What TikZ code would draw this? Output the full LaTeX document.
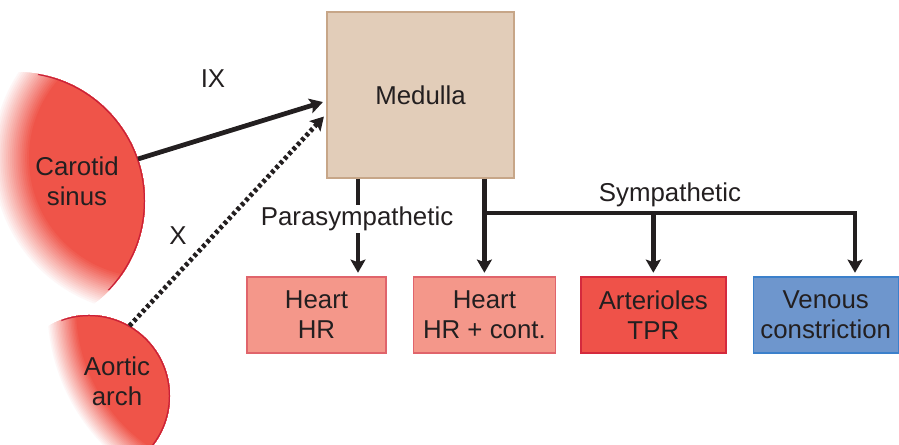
\documentclass[tikz,border=0pt]{standalone}
\usepackage{fontspec}
\setmainfont{Liberation Sans}
\usepackage{tikz}
\usetikzlibrary{positioning,arrows.meta,calc}
\usepackage{xcolor}
\definecolor{inkgray}{HTML}{231F20}
\definecolor{medfill}{HTML}{E2CDB9}
\definecolor{medline}{HTML}{C7A688}
\definecolor{heartfill}{HTML}{F4978A}
\definecolor{heartline}{HTML}{E0646B}
\definecolor{artfill}{HTML}{EF5249}
\definecolor{artline}{HTML}{D42A3D}
\definecolor{venfill}{HTML}{6E96CD}
\definecolor{venline}{HTML}{3B80CB}
\definecolor{sinred}{HTML}{EF5449}
\definecolor{sinedge}{HTML}{C92038}
\tikzset{
  >=Stealth,
  organ/.style={rectangle, minimum height=1.52cm, align=center, line width=0.8pt},
  nerve/.style={line width=2.7pt, draw=inkgray,
    -{Stealth[length=7.5pt,width=8.5pt,inset=1.5pt]}, shorten >=2pt},
  receptor/.style={circle, inner sep=0pt, outer sep=0pt},
}

\begin{document}
\begin{tikzpicture}[
  font=\fontsize{14.7}{17}\selectfont, text=inkgray,
  node distance=0.52cm
]
  \useasboundingbox (0,0) rectangle (17.98,8.9);
  \clip (0,0) rectangle (17.98,8.9);
  % receptors, soft on the left
  \begin{scope}
    \clip (0.32,4.88) circle (2.58);
    \foreach \i [evaluate=\i as \p using int(5*\i)] in {0,...,20}
      \fill[sinred!\p!white] (2.96,5.74) circle ({3.14-\i*0.038});
    \clip (2.96,5.74) circle (2.76);
    \draw[sinedge, line width=1.4pt] (0.32,4.88) circle (2.58);
  \end{scope}
  \begin{scope}
    \clip (1.78,0.98) circle (1.62);
    \foreach \i [evaluate=\i as \p using int(5*\i)] in {0,...,20}
      \fill[sinred!\p!white] (4.88,2.74) circle ({3.96-\i*0.03});
    \clip (4.88,2.74) circle (3.66);
    \draw[sinedge, line width=1.4pt] (1.78,0.98) circle (1.62);
  \end{scope}
  \node[receptor, minimum size=5.16cm] (cs) at (0.32,4.88) {};
  \node[align=center] (cstext) at (1.54,5.28) {Carotid\\sinus};
  \node[receptor, minimum size=3.24cm] (aa) at (1.78,0.98) {};
  \node[align=center] (aatext) at (2.34,1.28) {Aortic\\arch};

  % medulla and effectors
  \node[draw=medline, fill=medfill, line width=0.8pt,
    minimum width=3.74cm, minimum height=3.32cm] (med) at (8.41,7.0) {Medulla};
  \node[organ, draw=heartline, fill=heartfill, minimum width=2.78cm] (hr) at (6.33,2.6) {Heart\\HR};
  \node[organ, draw=heartline, fill=heartfill, minimum width=2.84cm, right=of hr] (hrc) {Heart\\HR + cont.};
  \node[organ, draw=artline, fill=artfill, minimum width=2.9cm, right=0.48cm of hrc] (art) {Arterioles\\TPR};
  \node[organ, draw=venline, fill=venfill, minimum width=2.9cm, right=of art] (ven) {Venous\\constriction};

  % afferents
  \draw[nerve] (cs.19) -- ([yshift=-0.12cm]med.west);
  \draw[nerve, dash pattern=on 2pt off 1.6pt] (aa.60) -- ([yshift=-0.38cm]med.west);
  \node (ixlabel) at (4.26,7.32) {IX};
  \node (xlabel) at (3.56,4.18) {X};

  % efferents
  \coordinate (pdrop) at (7.16,4.64);
  \coordinate (branch) at (9.68,4.64);
  \coordinate (vdrop) at (17.1,4.64);
  \draw[nerve] (med.south -| pdrop) -- (hr.north -| pdrop);
  \draw[nerve] (med.south -| hrc.north) -- (hrc.north);
  \draw[nerve, line join=miter] (branch) -- (vdrop) -- (ven.north -| vdrop);
  \draw[nerve] (branch -| art.north) -- (art.north);
  \node[fill=white, inner sep=1pt] (paralabel) at (7.14,4.52) {Parasympathetic};
  \node (symlabel) at (13.4,5.0) {Sympathetic};
\end{tikzpicture}
\end{document}
